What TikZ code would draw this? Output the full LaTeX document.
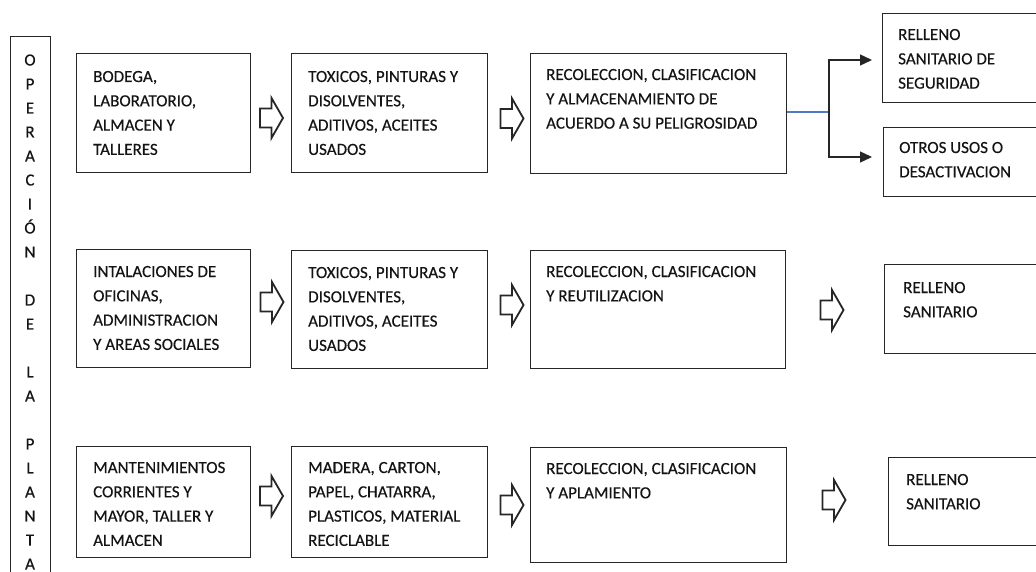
\documentclass[tikz,border=0pt]{standalone}
\usepackage{fontspec}
\setmainfont{Carlito}[FakeBold=0.35]
\usetikzlibrary{calc,arrows.meta}
\definecolor{linkblue}{RGB}{79,120,196}
\newcommand\boxlines[1]{\begin{tabular}[t]{@{}l@{}}#1\end{tabular}}
\begin{document}
\begin{tikzpicture}[x=1pt,y=-1pt,
  box/.style={draw=black!85, line width=1.4pt, inner sep=0pt, anchor=north west},
  txt/.style={anchor=base west, inner sep=0pt, text=black!92, font=\fontsize{17}{24.3}\selectfont},
  blueline/.style={draw=linkblue, line width=1.1pt},
  branch/.style={draw=black!85, line width=1.3pt, -{Triangle[length=12pt,width=11pt]}},
  harrow/.pic={\draw[line width=1.8pt, draw=black!85, fill=white, line join=miter]
     (-11.5,-9.5) -- (0,-9.5) -- (0,-20) -- (11.5,0) -- (0,20) -- (0,9.5) -- (-11.5,9.5) -- cycle;}]
\clip (0,0) rectangle (1036,572);
\fill[white] (0,0) rectangle (1036,572);

% left vertical box
\node[box, minimum width=40pt, minimum height=580pt] (col) at (10,36) {};
\node[anchor=base, inner sep=0pt, text=black!92, font=\fontsize{17}{24}\selectfont] (coltxt) at (30,65.5)
 {\begin{tabular}[t]{@{}c@{}}O\\P\\E\\R\\A\\C\\I\\Ó\\N\\ \\D\\E\\ \\L\\A\\ \\P\\L\\A\\N\\T\\A\end{tabular}};

% row 1
\node[box, minimum width=174pt, minimum height=119pt] (a1) at (76,53) {};
\node[box, minimum width=196pt, minimum height=119pt] (b1) at (291,53) {};
\node[box, minimum width=256pt, minimum height=120pt] (c1) at (530,53) {};
\node[box, minimum width=170pt, minimum height=89pt] (d1) at (882,13) {};
\node[box, minimum width=170pt, minimum height=69pt] (e1) at (883,127) {};

\node[txt] (a1t) at ($(a1.north west)+(17,29)$) {\boxlines{BODEGA,\\LABORATORIO,\\ALMACEN Y\\TALLERES}};
\node[txt] (b1t) at ($(b1.north west)+(17,29)$) {\boxlines{TOXICOS, PINTURAS Y\\DISOLVENTES,\\ADITIVOS, ACEITES\\USADOS}};
\node[txt] (c1t) at ($(c1.north west)+(16,27)$) {\boxlines{RECOLECCION, CLASIFICACION\\Y ALMACENAMIENTO DE\\ACUERDO A SU PELIGROSIDAD}};
\node[txt] (d1t) at ($(d1.north west)+(16,27)$) {\boxlines{RELLENO\\SANITARIO DE\\SEGURIDAD}};
\node[txt] (e1t) at ($(e1.north west)+(16,26)$) {\boxlines{OTROS USOS O\\DESACTIVACION}};

\pic at (271.5,118) {harrow};
\pic at (512,118.5) {harrow};

\coordinate (br) at (829,112);
\coordinate (t1) at (872,60);
\coordinate (t2) at (872,157);
\draw[blueline] (c1.east |- br) -- (br);
\draw[branch] (br) |- (t1);
\draw[branch] (br) |- (t2);

% row 2
\node[box, minimum width=174pt, minimum height=118pt] (a2) at (76,249) {};
\node[box, minimum width=196pt, minimum height=118pt] (b2) at (291,250) {};
\node[box, minimum width=255pt, minimum height=118pt] (c2) at (530,250) {};
\node[box, minimum width=170pt, minimum height=89pt] (d2) at (884,264) {};

\node[txt] (a2t) at ($(a2.north west)+(17,28)$) {\boxlines{INTALACIONES DE\\OFICINAS,\\ADMINISTRACION\\Y AREAS SOCIALES}};
\node[txt] (b2t) at ($(b2.north west)+(17,28)$) {\boxlines{TOXICOS, PINTURAS Y\\DISOLVENTES,\\ADITIVOS, ACEITES\\USADOS}};
\node[txt] (c2t) at ($(c2.north west)+(16,27)$) {\boxlines{RECOLECCION, CLASIFICACION\\Y REUTILIZACION}};
\node[txt] (d2t) at ($(d2.north west)+(19,29)$) {\boxlines{RELLENO\\SANITARIO}};

\pic at (272,302) {harrow};
\pic at (512,305) {harrow};
\pic at (832,310) {harrow};

% row 3
\node[box, minimum width=174pt, minimum height=111pt] (a3) at (76,446) {};
\node[box, minimum width=196pt, minimum height=111pt] (b3) at (291,446) {};
\node[box, minimum width=256pt, minimum height=115pt] (c3) at (530,447) {};
\node[box, minimum width=170pt, minimum height=88pt] (d3) at (888,457) {};

\node[txt] (a3t) at ($(a3.north west)+(17,27)$) {\boxlines{MANTENIMIENTOS\\CORRIENTES Y\\MAYOR, TALLER Y\\ALMACEN}};
\node[txt] (b3t) at ($(b3.north west)+(17,27)$) {\boxlines{MADERA, CARTON,\\PAPEL, CHATARRA,\\PLASTICOS, MATERIAL\\RECICLABLE}};
\node[txt] (c3t) at ($(c3.north west)+(16,27)$) {\boxlines{RECOLECCION, CLASIFICACION\\Y APLAMIENTO}};
\node[txt] (d3t) at ($(d3.north west)+(18,28)$) {\boxlines{RELLENO\\SANITARIO}};

\pic at (271.5,496) {harrow};
\pic at (512,505) {harrow};
\pic at (834,500) {harrow};
\end{tikzpicture}
\end{document}
